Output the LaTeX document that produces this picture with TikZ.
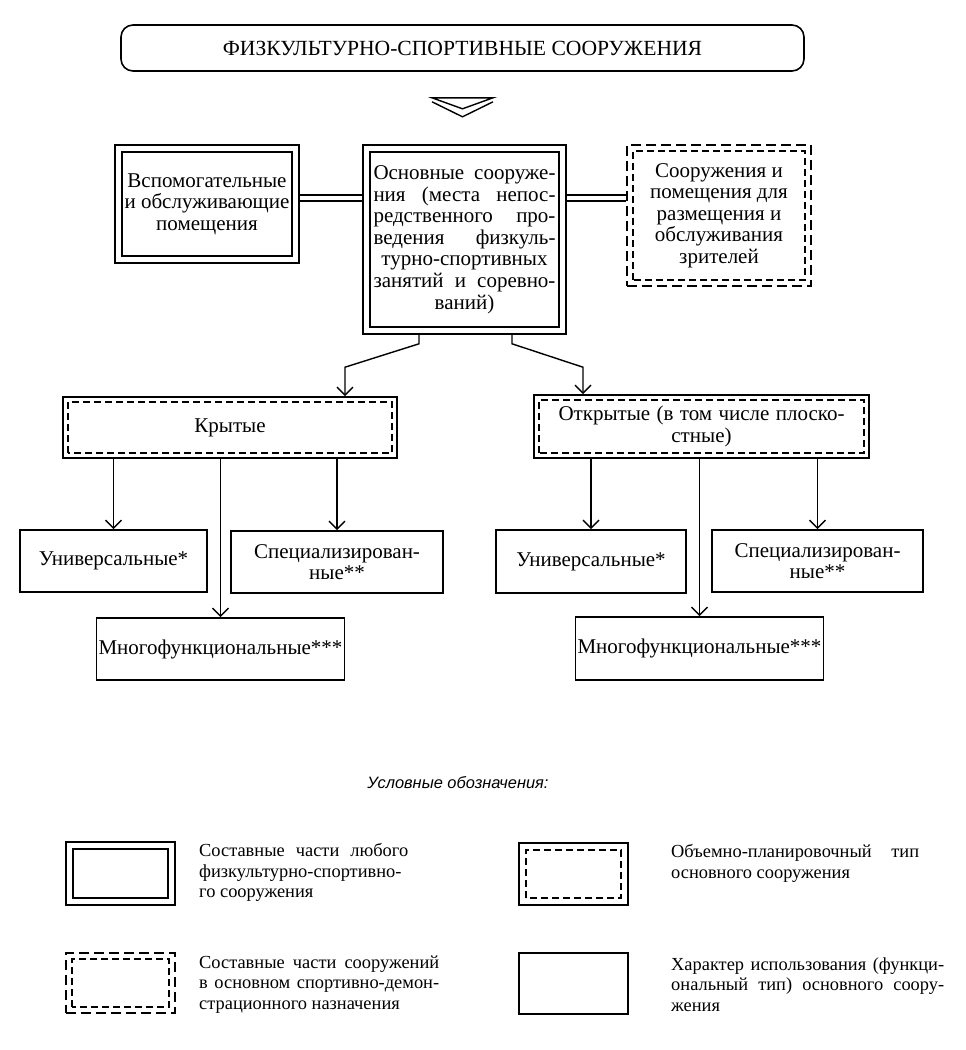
\documentclass[tikz,border=0pt]{standalone}
\usepackage{fontspec}
\setmainfont{Liberation Serif}
\setsansfont{Liberation Sans}
\usetikzlibrary{positioning,arrows.meta}
\tikzset{
  cell/.style={rectangle, draw, line width=0.8pt, inner sep=1pt, align=center,
               font=\fontsize{10.5}{10.8}\selectfont},
  inframe/.style 2 args={path picture={\draw[line width=0.7pt, #1]
      ([shift={(#2,#2)}]path picture bounding box.south west) rectangle
      ([shift={(-#2,-#2)}]path picture bounding box.north east);}},
  partbox/.style={cell, inframe={solid}{3.5pt}},
  spectbox/.style={cell, dash pattern=on 5pt off 2.5pt,
                   inframe={dash pattern=on 3.5pt off 2pt}{3pt}},
  typebox/.style={cell, inframe={dash pattern=on 3.5pt off 2pt}{2.5pt}},
  usebox/.style={cell},
  titlebox/.style={cell, rounded corners=6pt, font=\fontsize{10.8}{12}\selectfont},
  legtext/.style={anchor=north west, inner sep=0pt, align=left,
                  font=\fontsize{9.2}{10.3}\selectfont},
  fwd/.style={-{Straight Barb[length=4pt,width=8pt]}, line width=0.7pt},
  twin/.style={double, double distance=2.2pt, line width=0.7pt},
}
\newcommand{\spread}[2]{\makebox[#1][s]{#2}}
\begin{document}
\begin{tikzpicture}[x=0.5pt, y=-0.5pt]
  \useasboundingbox (0,0) rectangle (965,1050);

  \node[titlebox, minimum width=341.5pt, minimum height=23pt] (title) at (462.5,48) {ФИЗКУЛЬТУРНО-СПОРТИВНЫЕ СООРУЖЕНИЯ};
  % chevron under the title
  \coordinate (chev) at ([yshift=-13pt]title.south);
  \draw[line width=0.7pt] (chev) ++(-30.5,0) -- ++(61,0) -- ++(-30.5,11) -- cycle;
  \draw[line width=0.7pt] (chev) ++(-30.5,4) -- ++(30.5,15) -- ++(30.5,-15);

  % parts of the main building
  \node[partbox, minimum width=92pt, minimum height=59pt] (aux) at (207,204) {Вспомогательные\\и обслуживающие\\помещения};
  \node[partbox, minimum width=101.5pt, minimum height=94.5pt, text width=91pt] (main) at (464.5,239.5)
    {Основные\hfill сооруже-\\ния\hfill (места\hfill непос-\\редственного\hfill про-\\ведения\hfill физкуль-\\турно-спортивных\\занятий\hfill и\hfill соревно-\\ваний)};
  \node[spectbox, minimum width=92pt, minimum height=70.5pt] (spect) at (719,215.5) {Сооружения и\\помещения для\\размещения и\\обслуживания\\зрителей};

  % building types
  \node[typebox, minimum width=167pt, minimum height=30.5pt] (cover) at (230,427.5) {Крытые};
  \node[typebox, minimum width=167.5pt, minimum height=31.5pt, text width=143pt] (open) at (701.5,426.5) {Открытые\hfill (в\hfill том\hfill числе\hfill плоско-\\стные)};

  % kinds of use
  \node[usebox, minimum width=93.5pt, minimum height=31pt] (cuni) at (113.5,561) {Универсальные*};
  \node[usebox, minimum width=106pt, minimum height=31pt] (cspec) at (337,562) {Специализирован-\\ные**};
  \node[usebox, minimum width=122.5pt, minimum height=31pt] (cmulti) at (220.5,649) {Многофункциональные***};
  \node[usebox, minimum width=95pt, minimum height=31.5pt] (ouni) at (591,561.5) {Универсальные*};
  \node[usebox, minimum width=105.5pt, minimum height=31pt] (ospec) at (817.5,561) {Специализирован-\\ные**};
  \node[usebox, minimum width=122.5pt, minimum height=31.5pt] (omulti) at (699.5,648.5) {Многофункциональные***};

  \coordinate (joint) at ([yshift=3pt]aux.east);
  \draw[twin] (joint) -- (joint -| main.west);
  \draw[twin] (joint -| main.east) -- (joint -| spect.west);

  \draw[fwd] ([xshift=-22.75pt]main.south) -- ++(0,9) -- ([shift={(57.5pt,14.5pt)}]cover.north) -- ([xshift=57.5pt]cover.north);
  \draw[fwd] ([xshift=23.75pt]main.south) -- ++(0,9) -- ([shift={(-59.25pt,13.5pt)}]open.north) -- ([xshift=-59.25pt]open.north);
  \foreach \from/\to in {cover/cuni, cover/cspec, cover/cmulti, open/ouni, open/ospec, open/omulti}
    \draw[fwd] (\to.north |- \from.south) -- (\to.north);

  % legend
  \node[font=\sffamily\itshape\fontsize{8.2}{10}\selectfont] (legend) at (458,783) {Условные обозначения:};
  \node[partbox, minimum width=54.5pt, minimum height=31.5pt] (leg1) at (120.5,873.5) {};
  \node[spectbox, minimum width=54.5pt, minimum height=30pt] (leg2) at (120.5,983) {};
  \node[typebox, inframe={dash pattern=on 3.5pt off 2pt}{3.5pt}, minimum width=54.5pt, minimum height=31pt] (leg3) at (573.5,874) {};
  \node[usebox, minimum width=54.5pt, minimum height=30.5pt] (leg4) at (573.5,983.5) {};
  \node[legtext] (legtxt1) at ([shift={(11.5pt,-1pt)}]leg1.north east)
    {\spread{104.5pt}{Составные части любого}\\физкультурно-спортивно-\\го сооружения};
  \node[legtext] (legtxt2) at ([shift={(11.5pt,-1.5pt)}]leg2.north east)
    {\spread{120pt}{Составные части сооружений}\\\spread{120pt}{в основном спортивно-демон-}\\страционного назначения};
  \node[legtext] (legtxt3) at ([shift={(21pt,-1pt)}]leg3.north east)
    {\spread{124pt}{Объемно-планировочный тип}\\основного сооружения};
  \node[legtext] (legtxt4) at ([shift={(21pt,-2.5pt)}]leg4.north east)
    {\spread{136.5pt}{Характер использования (функци-}\\\spread{136.5pt}{ональный тип) основного соору-}\\жения};
\end{tikzpicture}
\end{document}
